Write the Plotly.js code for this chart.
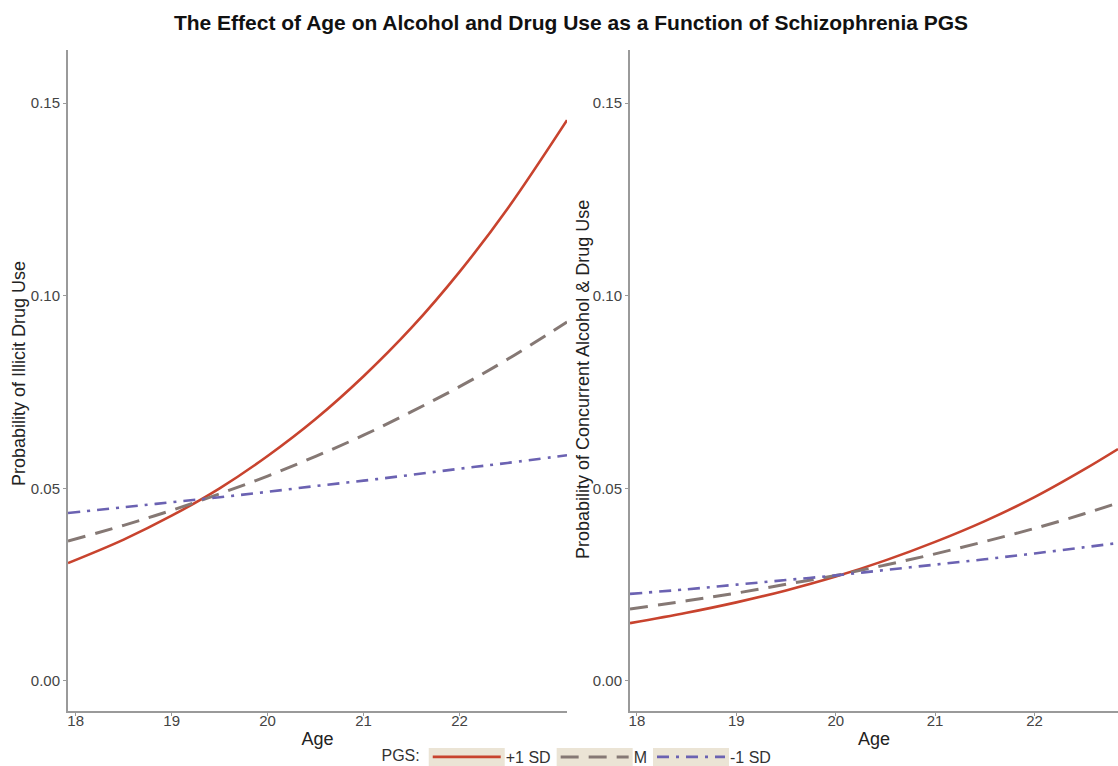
<!DOCTYPE html>
<html>
<head>
<meta charset="utf-8">
<script src="https://cdn.plot.ly/plotly-3.0.1.min.js"></script>
<style>html,body{margin:0;padding:0;background:#fff;}#chart{width:1118px;height:766px;}</style>
</head>
<body>
<div id="chart"></div>
<script>
// ---- Data ----
const ageIllicit = [17.92, 18.5, 19, 19.5, 20, 20.5, 21, 21.5, 22, 22.5, 23.12];
const illicitPlus1SD = [0.0306, 0.0367, 0.0429, 0.0500, 0.0584, 0.0680, 0.0791, 0.0917, 0.1062, 0.1226, 0.1456];
const illicitMean    = [0.0363, 0.0404, 0.0443, 0.0486, 0.0532, 0.0583, 0.0638, 0.0699, 0.0764, 0.0835, 0.0932];
const illicitMinus1SD= [0.0436, 0.0451, 0.0464, 0.0477, 0.0491, 0.0506, 0.0520, 0.0535, 0.0551, 0.0566, 0.0586];

const ageConcurrent = [17.93, 18.5, 19, 19.5, 20, 20.5, 21, 21.5, 22, 22.5, 22.84];
const concPlus1SD  = [0.0150, 0.0177, 0.0204, 0.0235, 0.0271, 0.0313, 0.0361, 0.0415, 0.0477, 0.0549, 0.0602];
const concMean     = [0.0187, 0.0208, 0.0228, 0.0251, 0.0274, 0.0301, 0.0330, 0.0362, 0.0396, 0.0434, 0.0462];
const concMinus1SD = [0.0226, 0.0238, 0.0250, 0.0262, 0.0274, 0.0288, 0.0302, 0.0316, 0.0331, 0.0347, 0.0358];

const groupNames = ['+1 SD', 'M', '-1 SD'];
const xTicks = [18, 19, 20, 21, 22];
const yTicks = [0, 0.05, 0.10, 0.15];
const yTickLabels = ['0.00', '0.05', '0.10', '0.15'];
const yTitles = ['Probability of Illicit Drug Use', 'Probability of Concurrent Alcohol &amp; Drug Use'];

// ---- Styles ----
const FONT = 'Liberation Sans, Arial, sans-serif';
const styles = [
  {color: '#c8432e', width: 2.6, dash: 'solid'},
  {color: '#857874', width: 3, dash: '18px,10px'},
  {color: '#6b62b2', width: 2.6, dash: '12px,7px,3px,7px'}
];

const panels = [
  {x: ageIllicit, ys: [illicitPlus1SD, illicitMean, illicitMinus1SD], xa: 'x', ya: 'y'},
  {x: ageConcurrent, ys: [concPlus1SD, concMean, concMinus1SD], xa: 'x2', ya: 'y2'}
];

const traces = [];
panels.forEach((p, pi) => {
  p.ys.forEach((ys, gi) => {
    traces.push({
      type: 'scatter', mode: 'lines',
      x: p.x, y: ys, xaxis: p.xa, yaxis: p.ya,
      name: groupNames[gi], legendgroup: groupNames[gi],
      showlegend: pi === 0,
      line: {color: styles[gi].color, width: styles[gi].width, dash: styles[gi].dash, shape: 'spline'},
      hoverinfo: 'skip'
    });
  });
});

const axisCommon = {
  showgrid: false, zeroline: false,
  showline: true, linecolor: '#9a9a9a', linewidth: 2,
  ticks: 'outside', ticklen: 3, tickcolor: '#9a9a9a', tickwidth: 1,
  tickfont: {family: FONT, size: 15, color: '#444'}
};
const titleFont = {family: FONT, size: 18, color: '#222'};

const W = 1118, H = 766;
const yDom = [1 - 711 / H, 1 - 50 / H];
const yRange = [-0.0078, 0.1638];

const layout = {
  width: W, height: H,
  margin: {l: 0, r: 0, t: 0, b: 0, autoexpand: false},
  paper_bgcolor: '#fff', plot_bgcolor: '#fff',
  font: {family: FONT, color: '#222'},
  title: {
    text: '<b>The Effect of Age on Alcohol and Drug Use as a Function of Schizophrenia PGS</b>',
    x: 571 / W, xanchor: 'center', y: 1 - 23 / H, yanchor: 'middle',
    font: {family: FONT, size: 21, color: '#111'}
  },
  xaxis: Object.assign({}, axisCommon, {
    domain: [68 / W, 567 / W], range: [17.92, 23.12], tickvals: xTicks,
    ticklabelstandoff: -8,
    title: {text: 'Age', font: titleFont, standoff: 4}, anchor: 'y'
  }),
  yaxis: Object.assign({}, axisCommon, {
    domain: yDom, range: yRange, tickvals: yTicks, ticktext: yTickLabels, anchor: 'x'
  }),
  xaxis2: Object.assign({}, axisCommon, {
    domain: [630 / W, 1], range: [17.93, 22.84], tickvals: xTicks,
    ticklabelstandoff: -8,
    title: {text: 'Age', font: titleFont, standoff: 4}, anchor: 'y2'
  }),
  yaxis2: Object.assign({}, axisCommon, {
    domain: yDom, range: yRange, tickvals: yTicks, ticktext: yTickLabels, anchor: 'x2'
  }),
  annotations: [
    {text: yTitles[0], xref: 'paper', yref: 'paper', x: 19 / W, y: 1 - 374 / H,
     xanchor: 'center', yanchor: 'middle', textangle: -90, showarrow: false, font: titleFont},
    {text: yTitles[1], xref: 'paper', yref: 'paper', x: 583 / W, y: 1 - 380 / H,
     xanchor: 'center', yanchor: 'middle', textangle: -90, showarrow: false, font: titleFont}
  ],
  showlegend: true,
  legend: {
    orientation: 'h', x: 578 / W, xanchor: 'center', y: 1 - 757 / H, yanchor: 'middle',
    title: {text: 'PGS:', side: 'left', font: {family: FONT, size: 16, color: '#333'}},
    font: {family: FONT, size: 16, color: '#333'},
    bgcolor: 'rgba(0,0,0,0)', itemwidth: 68, tracegroupgap: 0
  }
};

const gd = document.getElementById('chart');
Plotly.newPlot(gd, traces, layout, {staticPlot: true, displayModeBar: false}).then(() => {
  // beige key backgrounds behind legend keys, placed from the rendered legend geometry
  const base = gd.getBoundingClientRect();
  const shapes = [];
  gd.querySelectorAll('.legend .traces').forEach(tr => {
    const ln = tr.querySelector('.legendlines path');
    if (!ln) return;
    const b = ln.getBoundingClientRect();
    const cy = (b.top + b.bottom) / 2 - base.top;
    const x0 = b.left - base.left - 4, x1 = b.right - base.left + 4;
    shapes.push({
      type: 'rect', xref: 'paper', yref: 'paper', layer: 'above',
      x0: x0 / W, x1: x1 / W, y0: 1 - (cy + 9) / H, y1: 1 - (cy - 9) / H,
      fillcolor: '#ebe4d5', line: {width: 0}
    });
  });
  return Plotly.relayout(gd, {shapes: shapes});
});
</script>
</body>
</html>
